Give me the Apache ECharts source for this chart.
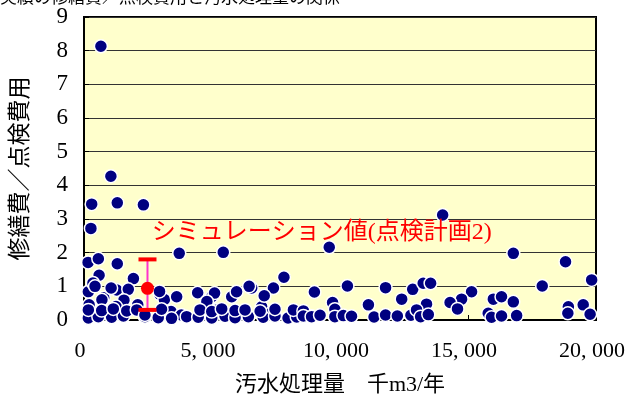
<!DOCTYPE html>
<html><head><meta charset="utf-8">
<script src="https://cdn.jsdelivr.net/npm/echarts@6/dist/echarts.min.js"></script>
<style>html,body{margin:0;padding:0;background:#fff}#c{width:626px;height:398px}</style>
</head><body><div id="c"></div>
<script>
const xTicks = [0, 5000, 10000, 15000, 20000];
const yTicks = [0,1,2,3,4,5,6,7,8,9];
const xName = '汚水処理量　千m3/年';
const yName = '修繕費／点検費用';
const simLabel = 'シミュレーション値(点検計画2)';
const topNote = '実績の修繕費／点検費用と汚水処理量の関係';
// actual plants: [汚水処理量, 修繕費/点検費用]
const actual = [
 [660,8.13],[1050,4.27],[300,3.44],[1300,3.48],[2320,3.42],[270,2.72],[160,1.71],[560,1.82],[1300,1.67],[590,1.33],
 [1930,1.23],[3720,1.98],[5440,2.01],[170,0.84],[1280,0.89],[1730,0.91],[770,0.66],[200,0.45],[700,0.6],[1560,0.59],
 [2970,0.76],[3140,0.61],[3620,0.69],[4440,0.81],[4990,0.69],[5100,0.8],[5770,0.69],[5960,0.84],[6550,0.95],[7400,0.95],
 [7810,1.27],[6940,0.39],[7040,0.72],[9000,0.83],
 [350,1.1],[430,1.0],[1060,0.95],[2950,0.85],[6450,1.0],[4800,0.55],[2100,0.45],[1250,0.4],[3400,0.25],[5200,0.3],[6000,0.2],[7300,0.2],[3800,0.15],
 [170,0.06],[560,0.1],[1080,0.08],[1540,0.12],[2380,0.1],[2900,0.07],[3420,0.05],[4010,0.1],[4460,0.08],[4990,0.06],
 [5510,0.11],[5900,0.07],[6420,0.1],[7000,0.08],[7460,0.12],[7970,0.06],[8310,0.09],[8890,0.11],
 [170,0.3],[690,0.28],[1145,0.33],[1670,0.27],[2060,0.3],[2380,0.15],[3030,0.32],[4530,0.3],[4990,0.25],[5380,0.33],
 [5900,0.28],[6290,0.3],[6880,0.26],[7460,0.32],[8180,0.3],[8570,0.27],
 [14010,3.12],[9580,2.16],[16770,1.98],[18810,1.73],[19830,1.19],[17900,1.01],[10290,1.01],[11780,0.96],[12840,0.91],
 [13250,1.09],[13540,1.09],[15140,0.84],[14750,0.62],[14300,0.52],[14590,0.33],[12410,0.62],[13380,0.47],[9710,0.52],
 [9800,0.32],[11110,0.45],[15990,0.62],[16310,0.69],[16770,0.54],[18920,0.39],[19500,0.45],[19770,0.17],[18900,0.2],
 [8570,0.12],[8890,0.1],[9220,0.14],[9800,0.1],[10130,0.13],[10450,0.11],[11330,0.09],[11780,0.15],[12240,0.12],
 [12770,0.14],[12990,0.3],[13150,0.1],[13450,0.16],[15790,0.2],[15920,0.08],[16310,0.12],[16900,0.13]
];
// simulation: [x, value, low, high]
const sim = [[2480, 0.94, 0.30, 1.80]];

const serif = '"Liberation Serif","DejaVu Serif","Noto Sans CJK JP",serif';
const chart = echarts.init(document.getElementById('c'));
chart.setOption({
  animation:false,
  backgroundColor:'#fff',
  graphic:[{type:'text', x:0, y:-12, silent:true, style:{text:topNote, font:'17px "Noto Sans CJK JP"', fill:'#000', textVerticalAlign:'top'}}],
  grid:{left:84, right:30, top:17, bottom:78, containLabel:false, outerBoundsMode:'none',
    show:true, backgroundColor:'#FFFFCC', borderColor:'#000', borderWidth:2},
  xAxis:{type:'value', min:xTicks[0], max:xTicks[xTicks.length-1], interval:5000,
    name:xName, nameLocation:'middle', nameGap:54,
    nameTextStyle:{fontFamily:serif, fontSize:22, color:'#000'},
    axisLine:{lineStyle:{color:'#000', width:2}},
    axisTick:{inside:true, length:5, lineStyle:{color:'#000'}},
    axisLabel:{margin:20, fontFamily:serif, fontSize:22, color:'#000', padding:[0,8,0,0],
      formatter:v=>v.toLocaleString('en-US').replace(',', ', ')},
    splitLine:{show:false}},
  yAxis:{type:'value', min:yTicks[0], max:yTicks[yTicks.length-1], interval:1,
    name:yName, nameLocation:'middle', nameGap:52, nameRotate:90,
    nameTextStyle:{fontFamily:serif, fontSize:23, color:'#000'},
    axisLine:{lineStyle:{color:'#000', width:2}},
    axisTick:{inside:true, length:5, lineStyle:{color:'#000'}},
    axisLabel:{margin:16, fontFamily:serif, fontSize:23, color:'#000'},
    splitLine:{show:true, lineStyle:{color:'#333', width:1}}},
  series:[
    {type:'scatter', data:actual, symbolSize:13,
     itemStyle:{color:'#000080', borderColor:'#fff', borderWidth:1.5, opacity:1}},
    {type:'custom', data:sim, z:5,
     renderItem:(params, api)=>{
       const x = api.value(0);
       const lo = api.coord([x, api.value(2)]);
       const hi = api.coord([x, api.value(3)]);
       const hw = 9;
       return {type:'group', children:[
         {type:'line', shape:{x1:lo[0], y1:lo[1], x2:hi[0], y2:hi[1]}, style:{stroke:'#FF33CC', lineWidth:2}},
         {type:'rect', shape:{x:lo[0]-hw, y:lo[1]-2, width:hw*2, height:4}, style:{fill:'#FF0000'}},
         {type:'rect', shape:{x:hi[0]-hw, y:hi[1]-2, width:hw*2, height:4}, style:{fill:'#FF0000'}}
       ]};
     }},
    {type:'scatter', data:sim.map(d=>[d[0], d[1]]), symbolSize:13, z:6,
     itemStyle:{color:'#FF0000', opacity:1},
     markPoint:{symbol:'rect', symbolSize:1, itemStyle:{color:'transparent'},
       data:[{coord:[2630, 2.6]}],
       label:{show:true, formatter:simLabel, position:'right', distance:0, color:'#FF0000', fontSize:24, fontFamily:serif}}}
  ]
});
</script></body></html>
